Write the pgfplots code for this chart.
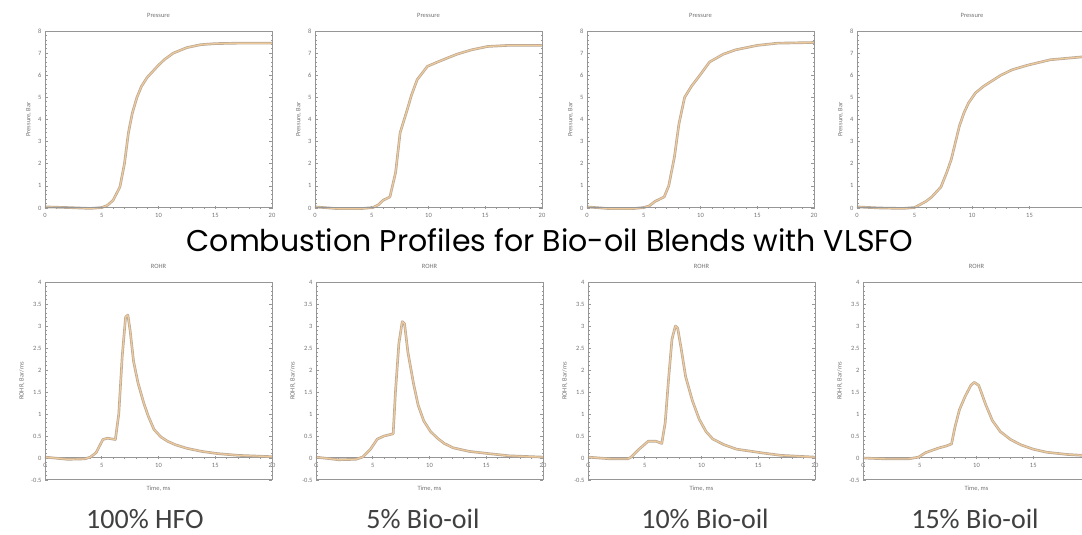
\documentclass[border=0pt]{standalone}
\usepackage{pgfplots}
\usepackage{pgfplotstable}
\pgfplotsset{compat=1.18}
\usepackage{fontspec}
\setmainfont{Carlito}
\newfontfamily\titlefont{Poppins}

\definecolor{axgray}{RGB}{150,150,150}
\definecolor{txtgray}{RGB}{115,115,115}
\definecolor{tancore}{RGB}{238,202,155}
\definecolor{tanedge}{RGB}{185,168,150}

% pressure traces, bar
\pgfplotstableread{
t v
0 0.05
2 0.02
4 -0.02
5 0.02
5.5 0.12
6 0.35
6.6 0.95
7.0 2.0
7.35 3.4
7.7 4.3
8.1 5.0
8.5 5.5
9.0 5.9
9.9 6.4
10.5 6.7
11.3 7.0
12.5 7.25
13.7 7.38
15 7.43
17 7.45
20 7.45
}\Pa
\pgfplotstableread{
t v
0 0.05
2 -0.03
4 -0.03
5.1 0.02
5.6 0.15
6.0 0.35
6.6 0.5
7.1 1.6
7.5 3.4
8.1 4.4
8.5 5.1
9.0 5.8
9.9 6.4
10.8 6.6
12.5 6.95
13.8 7.15
15.2 7.3
17 7.35
20 7.35
}\Pb
\pgfplotstableread{
t v
0 0.05
2 -0.03
4 -0.03
5.0 0.02
5.5 0.1
6.0 0.3
6.8 0.5
7.2 1.0
7.7 2.3
8.1 3.8
8.6 5.0
9.2 5.5
9.9 5.97
10.8 6.6
12 6.95
13.1 7.15
15 7.35
16.8 7.45
20 7.48
}\Pc
\pgfplotstableread{
t v
0 0.05
2 0.0
4 -0.02
5 0.02
6 0.3
6.5 0.5
7.3 0.95
7.8 1.6
8.2 2.2
8.9 3.7
9.3 4.3
9.7 4.75
10.3 5.2
11.0 5.5
12.5 6.0
13.5 6.25
14.8 6.45
16.8 6.7
20 6.85
}\Pd
% rate of heat release, bar/ms
\pgfplotstableread{
t v
0 0.02
2 -0.03
3.5 -0.02
4 0.02
4.5 0.12
5.1 0.42
5.5 0.45
6.2 0.42
6.5 1.0
6.8 2.3
7.1 3.2
7.3 3.25
7.5 2.9
7.8 2.2
8.2 1.7
8.7 1.25
9.1 0.95
9.6 0.65
10.2 0.48
10.8 0.38
11.5 0.3
12.5 0.22
13.8 0.15
15.2 0.1
17 0.06
20 0.03
}\Ra
\pgfplotstableread{
t v
0 0.02
2 -0.04
3.5 -0.03
4.1 0.02
4.8 0.2
5.4 0.43
6.0 0.5
6.8 0.55
7.0 1.5
7.3 2.6
7.6 3.1
7.8 3.05
8.1 2.4
8.6 1.68
9.0 1.2
9.5 0.84
10.1 0.6
10.7 0.45
11.3 0.33
12.1 0.23
13.5 0.15
15.2 0.1
17 0.05
20 0.02
}\Rb
\pgfplotstableread{
t v
0 0.02
2 -0.02
3.5 -0.02
3.8 0.02
4.5 0.2
5.3 0.38
6.0 0.38
6.5 0.33
6.8 0.8
7.1 1.8
7.4 2.7
7.7 3.0
7.9 2.95
8.2 2.5
8.6 1.85
9.2 1.3
9.8 0.88
10.4 0.6
11.0 0.43
12 0.3
13.1 0.2
15.5 0.11
17 0.06
20 0.02
}\Rc
\pgfplotstableread{
t v
0 0.0
2 -0.02
4 -0.02
4.9 0.02
5.5 0.12
6.7 0.23
7.3 0.27
7.8 0.32
8.1 0.7
8.5 1.1
9.0 1.4
9.5 1.65
9.8 1.72
10.2 1.65
10.8 1.22
11.4 0.85
12.1 0.6
13.0 0.42
13.9 0.3
15 0.2
16.2 0.13
18 0.08
20 0.05
}\Rd

\newcommand\trace[1]{%
  \addplot[tanedge, line width=2.6pt, line join=round] table[x=t,y=v] {#1};
  \addplot[tancore, line width=1.2pt, line join=round] table[x=t,y=v] {#1};}

\pgfplotsset{
  panel/.style={
    scale only axis, width=227pt,
    xmin=0, xmax=20, xtick={0,5,10,15,20},
    minor x tick num=4, minor y tick num=4,
    axis x line=middle, axis y line=box,
    hide obscured x ticks=false,
    axis line style={draw=axgray, line width=1pt, -},
    every inner x axis line/.append style={-},
    tick style={draw=axgray, line width=0.6pt},
    major tick length=3pt, minor tick length=1.5pt,
    tick label style={font=\fontsize{6.5}{7}\selectfont, text=txtgray},
    /pgf/number format/assume math mode=true,
    label style={font=\fontsize{6.5}{7}\selectfont, text=txtgray},
    title style={font=\fontsize{6.5}{7}\selectfont, text=txtgray,
      at={(0.5,1)}, anchor=center, yshift=10pt},
    clip=false,
    extra description/.code={\draw[axgray, line width=1pt] (0,0) rectangle (1,1);},
  },
  press/.style={panel, height=177pt, ymin=0, ymax=8, ytick={0,...,8},
    title=Pressure, ylabel={Pressure, Bar}},
  rohr/.style={panel, height=198pt, ymin=-0.5, ymax=4,
    ytick={-0.5,0,0.5,1,1.5,2,2.5,3,3.5,4},
    title=ROHR, ylabel={ROHR, Bar/ms}, xlabel={Time, ms},
    xlabel style={at={(axis description cs:0.5,0)}, anchor=north, yshift=-2pt}},
}

\begin{document}
\begin{tikzpicture}
\useasboundingbox (0,0) rectangle (1082pt,535pt);

\begin{axis}[press, at={(45pt,327pt)}, anchor=south west]
\trace{\Pa}
\end{axis}
\begin{axis}[press, at={(315pt,327pt)}, anchor=south west]
\trace{\Pb}
\end{axis}
\begin{axis}[press, at={(587pt,327pt)}, anchor=south west]
\trace{\Pc}
\end{axis}
\begin{axis}[press, at={(857pt,327pt)}, anchor=south west, width=230pt,
  xtick={0,5,10,15}]
\trace{\Pd}
\end{axis}

\begin{axis}[rohr, at={(45pt,55pt)}, anchor=south west]
\trace{\Ra}
\end{axis}
\begin{axis}[rohr, at={(316pt,55pt)}, anchor=south west]
\trace{\Rb}
\end{axis}
\begin{axis}[rohr, at={(588pt,55pt)}, anchor=south west]
\trace{\Rc}
\end{axis}
\begin{axis}[rohr, at={(863pt,55pt)}, anchor=south west, xtick={0,5,10,15}]
\trace{\Rd}
\end{axis}

\node[font=\titlefont\fontsize{30}{32}\selectfont, fill=white, inner sep=0pt,
  anchor=base] at (550pt,283pt) {Combustion Profiles for Bio-oil Blends with VLSFO};

\begin{scope}[every node/.style={font=\fontsize{28}{32}\selectfont,
  text={rgb,255:red,64;green,64;blue,64}, anchor=base}]
\node at (145pt,6pt) {100\% HFO};
\node at (423pt,6pt) {5\% Bio-oil};
\node at (705pt,6pt) {10\% Bio-oil};
\node at (975pt,6pt) {15\% Bio-oil};
\end{scope}
\end{tikzpicture}
\end{document}
